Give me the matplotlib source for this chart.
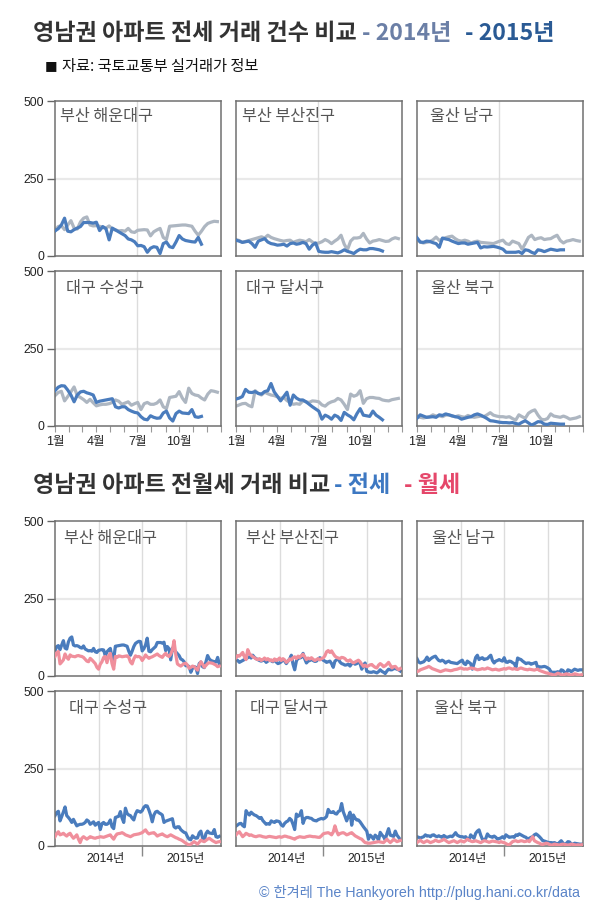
import numpy as np
import matplotlib
matplotlib.use('Agg')
import matplotlib.pyplot as plt

plt.rcParams['font.family'] = ['Liberation Sans', 'Noto Sans CJK KR', 'DejaVu Sans']
KR = ['Noto Sans CJK KR', 'DejaVu Sans']

# ---------------- data ----------------
districts = ['부산 해운대구', '부산 부산진구', '울산 남구', '대구 수성구', '대구 달서구', '울산 북구']

# weekly jeonse transactions, 2014 (gray) and 2015 (blue)
haeundae_2014 = [81, 95, 98, 85, 100, 114, 90, 87, 110, 122, 126, 100, 97, 98, 96, 92, 90, 97, 87, 84,
                 81, 82, 80, 89, 78, 76, 83, 84, 85, 84, 65, 78, 84, 89, 60, 53, 96, 97, 98, 99,
                 100, 100, 98, 96, 80, 67, 80, 95, 105, 109, 112, 111]
haeundae_2015 = [81, 88, 100, 122, 80, 78, 85, 90, 95, 108, 108, 108, 106, 109, 82, 95, 88, 52, 90, 84,
                 78, 72, 66, 55, 52, 46, 33, 34, 30, 12, 25, 30, 28, 8, 40, 45, 30, 27, 45, 66,
                 55, 50, 48, 46, 45, 60, 38]
busanjin_2014 = [53, 50, 44, 47, 50, 53, 56, 59, 62, 58, 67, 60, 56, 53, 50, 48, 50, 51, 44, 48,
                 51, 49, 46, 53, 45, 40, 42, 46, 53, 48, 40, 48, 55, 67, 38, 20, 48, 58, 58, 60,
                 73, 55, 42, 48, 50, 53, 50, 47, 48, 55, 59, 56]
busanjin_2015 = [51, 48, 44, 46, 48, 40, 28, 48, 52, 56, 45, 40, 38, 35, 36, 38, 32, 40, 42, 38,
                 40, 44, 40, 22, 35, 42, 15, 13, 12, 12, 14, 12, 10, 14, 20, 15, 12, 8, 16, 22,
                 20, 20, 24, 24, 22, 20, 16]
ulsan_nam_2014 = [56, 45, 42, 44, 46, 52, 61, 50, 55, 59, 62, 64, 56, 50, 48, 51, 48, 42, 46, 48,
                  44, 43, 42, 41, 40, 44, 48, 51, 40, 37, 48, 44, 40, 22, 40, 60, 67, 53, 57, 59,
                  53, 55, 56, 62, 67, 50, 42, 48, 50, 53, 50, 48]
ulsan_nam_2015 = [59, 45, 44, 48, 47, 43, 40, 28, 58, 55, 53, 48, 44, 40, 42, 42, 38, 40, 42, 44,
                  26, 30, 29, 30, 31, 29, 26, 22, 12, 12, 12, 12, 14, 8, 20, 18, 12, 8, 20, 18,
                  14, 18, 22, 20, 18, 20, 20]
suseong_2014 = [98, 108, 112, 81, 95, 110, 126, 98, 92, 85, 76, 86, 75, 65, 68, 70, 70, 72, 76, 84,
                80, 70, 74, 78, 67, 72, 76, 53, 72, 76, 70, 70, 74, 84, 62, 56, 92, 94, 96, 111,
                90, 76, 122, 105, 100, 98, 90, 84, 103, 114, 112, 109]
suseong_2015 = [114, 125, 130, 129, 116, 100, 78, 100, 110, 112, 107, 104, 100, 76, 80, 82, 84, 86, 88, 62,
                58, 62, 62, 53, 48, 44, 42, 30, 22, 20, 33, 28, 25, 26, 42, 48, 26, 16, 40, 48,
                42, 41, 40, 53, 30, 28, 31]
dalseo_2014 = [64, 68, 72, 73, 66, 62, 114, 105, 100, 109, 104, 100, 98, 94, 89, 92, 82, 76, 70, 72,
               70, 81, 78, 76, 81, 80, 78, 68, 64, 73, 78, 81, 89, 84, 70, 53, 103, 96, 100, 114,
               73, 88, 92, 92, 90, 89, 84, 82, 81, 85, 87, 89]
dalseo_2015 = [87, 90, 95, 118, 109, 108, 111, 105, 103, 111, 114, 137, 110, 96, 81, 95, 109, 67, 100, 90,
               84, 84, 78, 70, 62, 55, 48, 22, 35, 30, 22, 35, 30, 18, 44, 36, 30, 20, 40, 56,
               35, 33, 31, 48, 35, 28, 20]
ulsan_buk_2014 = [30, 28, 26, 28, 30, 36, 32, 33, 30, 35, 36, 32, 30, 33, 30, 28, 34, 30, 28, 30,
                  32, 30, 36, 43, 35, 32, 30, 30, 28, 30, 24, 19, 36, 30, 25, 41, 48, 52, 35, 22,
                  20, 24, 39, 32, 30, 28, 32, 28, 22, 24, 26, 30]
ulsan_buk_2015 = [25, 36, 32, 28, 29, 30, 28, 36, 34, 39, 36, 33, 30, 28, 22, 25, 28, 30, 36, 39,
                  35, 30, 24, 17, 16, 14, 12, 11, 11, 10, 11, 8, 6, 12, 17, 10, 3, 8, 14, 13,
                  6, 5, 9, 8, 7, 6, 6]

# weekly wolse transactions, 2014-01 .. 2015-11
wolse_haeundae = [63, 75, 79, 39, 45, 52, 71, 60, 54, 68, 64, 63, 62, 65, 66, 64, 63, 60, 54, 48,
                  46, 57, 52, 46, 40, 28, 22, 38, 46, 60, 63, 43, 65, 73, 40, 22, 63, 60, 65, 64,
                  62, 63, 64, 65, 60, 45, 39, 55, 65, 62, 63, 60, 50, 58, 68, 62, 57, 60, 62, 65,
                  68, 71, 66, 63, 60, 68, 73, 66, 63, 70, 84, 114, 70, 39, 35, 32, 36, 40, 41, 35,
                  25, 28, 32, 30, 24, 19, 35, 46, 38, 28, 34, 40, 43, 42, 41, 38, 35, 30, 32]
wolse_busanjin = [59, 66, 64, 70, 76, 62, 53, 85, 72, 67, 62, 59, 55, 53, 56, 50, 53, 58, 52, 56,
                  50, 52, 48, 55, 50, 53, 58, 50, 56, 52, 44, 48, 55, 52, 59, 62, 56, 64, 60, 66,
                  70, 62, 53, 58, 55, 59, 54, 50, 53, 56, 52, 56, 58, 65, 78, 82, 76, 81, 72, 64,
                  60, 58, 56, 60, 59, 56, 50, 48, 52, 46, 42, 45, 48, 51, 46, 38, 31, 35, 30, 33,
                  36, 37, 32, 28, 26, 35, 40, 36, 30, 33, 38, 44, 35, 26, 30, 31, 25, 20, 24]
wolse_ulsan_nam = [14, 16, 20, 22, 24, 26, 28, 31, 28, 24, 22, 20, 18, 16, 14, 16, 18, 20, 19, 18,
                   17, 18, 20, 21, 22, 24, 26, 24, 22, 23, 22, 24, 26, 25, 24, 22, 20, 21, 22, 24,
                   22, 23, 26, 24, 22, 20, 21, 22, 20, 19, 21, 22, 24, 22, 25, 26, 24, 22, 24, 22,
                   21, 24, 26, 24, 22, 21, 20, 22, 21, 20, 19, 21, 22, 18, 16, 14, 12, 10, 9, 7,
                   6, 4, 3, 6, 9, 7, 4, 3, 5, 7, 6, 4, 3, 5, 7, 6, 4, 3, 4]
wolse_suseong = [30, 40, 46, 36, 38, 41, 36, 32, 38, 41, 32, 25, 30, 36, 22, 11, 25, 30, 26, 22,
                 26, 30, 28, 26, 25, 27, 28, 30, 29, 28, 30, 32, 34, 36, 28, 22, 32, 39, 40, 41,
                 43, 40, 36, 34, 32, 30, 33, 36, 37, 38, 39, 41, 43, 48, 52, 44, 39, 41, 42, 43,
                 38, 32, 35, 37, 39, 35, 32, 30, 33, 36, 33, 30, 27, 25, 22, 20, 17, 13, 9, 6,
                 3, 6, 10, 14, 10, 6, 12, 19, 16, 14, 18, 22, 25, 21, 17, 14, 11, 13, 14]
wolse_dalseo = [36, 42, 46, 38, 30, 35, 41, 38, 34, 36, 33, 31, 30, 32, 33, 32, 30, 29, 28, 30,
                31, 30, 29, 28, 27, 29, 30, 28, 30, 32, 31, 29, 28, 26, 24, 22, 26, 28, 30, 29,
                28, 28, 30, 31, 32, 31, 30, 30, 29, 28, 28, 33, 39, 41, 42, 43, 40, 36, 45, 65,
                48, 36, 40, 42, 43, 40, 36, 38, 41, 43, 38, 33, 30, 27, 24, 22, 16, 11, 10, 9,
                9, 10, 11, 12, 13, 14, 13, 12, 11, 16, 22, 16, 11, 16, 22, 18, 14, 16, 18]
wolse_ulsan_buk = [11, 15, 19, 14, 11, 14, 17, 14, 11, 13, 15, 19, 16, 14, 16, 18, 22, 18, 14, 11,
                   13, 15, 17, 14, 11, 14, 17, 15, 13, 17, 22, 19, 16, 14, 15, 17, 15, 13, 11, 14,
                   17, 16, 14, 12, 14, 16, 15, 14, 13, 11, 14, 12, 11, 8, 5, 3, 9, 14, 16, 17,
                   14, 15, 17, 16, 14, 15, 17, 14, 22, 30, 17, 14, 11, 9, 6, 5, 7, 9, 8, 5,
                   3, 4, 6, 5, 4, 3, 5, 6, 5, 4, 3, 4, 6, 5, 4, 3, 4, 3, 4]

jeonse_2014 = [haeundae_2014, busanjin_2014, ulsan_nam_2014, suseong_2014, dalseo_2014, ulsan_buk_2014]
jeonse_2015 = [haeundae_2015, busanjin_2015, ulsan_nam_2015, suseong_2015, dalseo_2015, ulsan_buk_2015]
wolse = [wolse_haeundae, wolse_busanjin, wolse_ulsan_nam, wolse_suseong, wolse_dalseo, wolse_ulsan_buk]

y_ticks = [0, 250, 500]
y_tick_labels = ['0', '250', '500']
month_starts = [0, 31, 59, 90, 120, 151, 181, 212, 243, 273, 304, 334, 365]
month_label_pos = [0, 90, 181, 273]
month_labels = ['1월', '4월', '7월', '10월']
week_grid = [26, 52, 78]          # 2014-07, 2015-01, 2015-07
year_label_pos = [30, 78]
year_labels = ['2014년', '2015년']

# ---------------- style ----------------
W, H = 610, 910
PW, PH = 166, 155
COL_LEFT = [55, 236, 417]
TOP_BOTTOMS = [256, 426]
BOT_BOTTOMS = [676, 846]
GRAY = '#adb6c1'
BLUE = '#4a7cbd'
PINK = '#f08f9c'
SPINE = '#707070'
GRID = '#dcdcdc'
name_off_top = [(5, 16), (6, 16), (13, 16), (11, 17), (10, 17), (14, 17)]
name_off_bot = [(9, 17), (10, 17), (15, 17), (14, 17), (14, 17), (17, 17)]

fig = plt.figure(figsize=(W / 100, H / 100), dpi=100)
fig.patch.set_facecolor('white')


def px_axes(left, bottom_px):
    return fig.add_axes([left / W, 1 - bottom_px / H, PW / W, PH / H])


def base_style(ax, first_col):
    ax.set_ylim(0, 500)
    ax.set_yticks(y_ticks)
    ax.axhline(250, color='#e9e9e9', lw=1.6, zorder=0)
    for s in ax.spines.values():
        s.set_color(SPINE)
        s.set_linewidth(1.1)
    if first_col:
        ax.set_yticklabels(y_tick_labels)
        ax.tick_params(axis='y', length=6, width=1, color='#666666', pad=2,
                       labelsize=8.7, labelcolor='#222222')
    else:
        ax.tick_params(axis='y', left=False, labelleft=False)


def name_label(ax, text, off):
    dx, dy = off
    ax.text(dx / PW, 1 - dy / PH, text, transform=ax.transAxes, ha='left', va='center',
            fontsize=11.7, color='#555555', family=KR, zorder=5)


# --- top section: 2014 vs 2015 ---
for k, name in enumerate(districts):
    r, c = divmod(k, 3)
    ax = px_axes(COL_LEFT[c], TOP_BOTTOMS[r])
    base_style(ax, c == 0)
    ax.set_xlim(0, 365)
    ax.axvline(181, color=GRID, lw=1, zorder=0)
    a14 = jeonse_2014[k]
    a15 = jeonse_2015[k]
    ax.plot(7 * np.arange(len(a14)), a14, color=GRAY, lw=2.3, zorder=2)
    ax.plot(7 * np.arange(len(a15)), a15, color=BLUE, lw=2.3, zorder=3)
    if r == 1:
        ax.set_xticks(month_label_pos)
        ax.set_xticklabels(month_labels)
        ax.set_xticks(month_starts, minor=True)
        ax.tick_params(axis='x', which='both', length=4, width=0.8, color='#999999',
                       labelsize=9, labelcolor='#222222', pad=3)
    else:
        ax.tick_params(axis='x', which='both', bottom=False, labelbottom=False)
    name_label(ax, name, name_off_top[k])

# --- bottom section: jeonse vs wolse ---
for k, name in enumerate(districts):
    r, c = divmod(k, 3)
    ax = px_axes(COL_LEFT[c], BOT_BOTTOMS[r])
    base_style(ax, c == 0)
    ax.set_xlim(0, 99)
    for g in week_grid:
        ax.axvline(g, color=GRID, lw=1, zorder=0)
    js = list(jeonse_2014[k]) + list(jeonse_2015[k])
    ws = wolse[k]
    ax.plot(np.arange(len(js)), js, color=BLUE, lw=2.3, zorder=2)
    ax.plot(np.arange(len(ws)), ws, color=PINK, lw=2.3, zorder=3)
    if r == 1:
        ax.set_xticks([52])
        ax.set_xticklabels([''])
        ax.tick_params(axis='x', which='major', length=7, width=1, color='#888888')
        ax.set_xticks(year_label_pos, minor=True)
        ax.set_xticklabels(year_labels, minor=True)
        ax.tick_params(axis='x', which='minor', length=0, pad=5, labelsize=8.7,
                       labelcolor='#222222')
    else:
        ax.tick_params(axis='x', which='both', bottom=False, labelbottom=False)
    name_label(ax, name, name_off_bot[k])


# --- titles ---
def ftext(x, y, s, **kw):
    fig.text(x / W, 1 - y / H, s, **kw)


TS = 16.6
ftext(33, 33, '영남권 아파트 전세 거래 건수 비교', fontsize=TS, fontweight='bold',
      color='#333333', family=KR, va='center', ha='left')
ftext(362, 33, '- 2014년', fontsize=TS, fontweight='bold', color='#6b7fa6',
      family=KR, va='center', ha='left')
ftext(465, 33, '- 2015년', fontsize=TS, fontweight='bold', color='#2a5a94',
      family=KR, va='center', ha='left')
ftext(45, 66, '■', fontsize=9.5, color='#111111', family=['DejaVu Sans'], va='center', ha='left')
ftext(62, 66, '자료: 국토교통부 실거래가 정보', fontsize=11, color='#111111', family=KR,
      va='center', ha='left')

ftext(33, 485, '영남권 아파트 전월세 거래 비교', fontsize=TS, fontweight='bold',
      color='#333333', family=KR, va='center', ha='left')
ftext(334, 485, '- 전세', fontsize=TS, fontweight='bold', color='#3d78c2',
      family=KR, va='center', ha='left')
ftext(404, 485, '- 월세', fontsize=TS, fontweight='bold', color='#e5476a',
      family=KR, va='center', ha='left')

ftext(580, 893, '© 한겨레 The Hankyoreh http://plug.hani.co.kr/data', fontsize=10.3,
      color='#5a84c8', va='center', ha='right')

fig.savefig('out.png', dpi=100, facecolor='white')
